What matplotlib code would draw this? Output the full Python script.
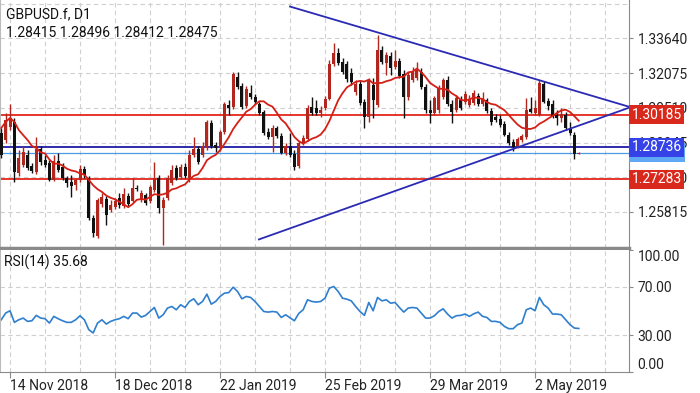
import numpy as np
import pandas as pd
import matplotlib
matplotlib.use('Agg')
import matplotlib.pyplot as plt
import matplotlib.transforms as mtransforms

plt.rcParams['font.family'] = ['Roboto', 'DejaVu Sans']

symbol = 'GBPUSD.f, D1'
last_ohlc = '1.28415 1.28496 1.28412 1.28475'

# daily bars, oldest first
opens = [1.2937, 1.2906, 1.2964, 1.2987, 1.2757, 1.2793, 1.2838, 1.2789, 1.2762, 1.2865,
         1.2816, 1.2802, 1.2726, 1.2811, 1.2784, 1.2735, 1.2717, 1.2703, 1.2726, 1.2775,
         1.2735, 1.2554, 1.2473, 1.2618, 1.2640, 1.2591, 1.2604, 1.2645, 1.2609, 1.2654,
         1.2631, 1.2690, 1.2636, 1.2658, 1.2631, 1.2681, 1.2735, 1.2600, 1.2645, 1.2712,
         1.2780, 1.2739, 1.2784, 1.2735, 1.2838, 1.2865, 1.2838, 1.2870, 1.2982, 1.2883,
         1.2870, 1.2942, 1.3064, 1.3055, 1.3190, 1.3149, 1.3059, 1.3118, 1.3100, 1.3068,
         1.3032, 1.2942, 1.2919, 1.2960, 1.2924, 1.2847, 1.2879, 1.2843, 1.2789, 1.2892,
         1.2910, 1.3055, 1.3050, 1.3028, 1.3050, 1.3091, 1.3248, 1.3298, 1.3257, 1.3248,
         1.3208, 1.3122, 1.3158, 1.3077, 1.3009, 1.3154, 1.3064, 1.3311, 1.3253, 1.3284,
         1.3235, 1.3262, 1.3203, 1.3100, 1.3176, 1.3185, 1.3212, 1.3145, 1.3041, 1.3028,
         1.3041, 1.3100, 1.3176, 1.3068, 1.3041, 1.3086, 1.3077, 1.3064, 1.3073, 1.3104,
         1.3068, 1.3086, 1.3037, 1.3009, 1.3000, 1.2978, 1.2928, 1.2897, 1.2879, 1.2906,
         1.2919, 1.3046, 1.3028, 1.3018, 1.3158, 1.3082, 1.3068, 1.3018, 1.3005, 1.3018,
         1.2960, 1.2928, 1.28415]
highs = [1.2960, 1.3028, 1.3068, 1.3005, 1.2861, 1.2879, 1.2861, 1.2802, 1.2919, 1.2879,
         1.2838, 1.2816, 1.2838, 1.2847, 1.2802, 1.2744, 1.2748, 1.2735, 1.2793, 1.2789,
         1.2744, 1.2568, 1.2645, 1.2667, 1.2654, 1.2636, 1.2645, 1.2667, 1.2690, 1.2667,
         1.2735, 1.2703, 1.2681, 1.2667, 1.2703, 1.2807, 1.2748, 1.2649, 1.2748, 1.2793,
         1.2793, 1.2798, 1.2802, 1.2861, 1.2919, 1.2879, 1.2897, 1.2996, 1.2996, 1.2897,
         1.2951, 1.3077, 1.3086, 1.3212, 1.3212, 1.3163, 1.3149, 1.3154, 1.3113, 1.3077,
         1.3041, 1.2960, 1.2973, 1.2969, 1.2937, 1.2892, 1.2937, 1.2861, 1.2901, 1.2928,
         1.3064, 1.3100, 1.3086, 1.3059, 1.3104, 1.3266, 1.3343, 1.3320, 1.3275, 1.3262,
         1.3230, 1.3176, 1.3172, 1.3091, 1.3185, 1.3185, 1.3379, 1.3329, 1.3302, 1.3302,
         1.3311, 1.3275, 1.3221, 1.3212, 1.3235, 1.3257, 1.3230, 1.3158, 1.3086, 1.3104,
         1.3154, 1.3185, 1.3194, 1.3086, 1.3109, 1.3104, 1.3127, 1.3109, 1.3131, 1.3118,
         1.3122, 1.3095, 1.3050, 1.3023, 1.3018, 1.2991, 1.2942, 1.2910, 1.2919, 1.2933,
         1.3095, 1.3100, 1.3086, 1.3176, 1.3172, 1.3095, 1.3086, 1.3041, 1.3050, 1.3032,
         1.2987, 1.2942, 1.28496]
lows = [1.2825, 1.2892, 1.2951, 1.2717, 1.2744, 1.2784, 1.2771, 1.2757, 1.2753, 1.2793,
        1.2784, 1.2721, 1.2721, 1.2762, 1.2726, 1.2694, 1.2649, 1.2681, 1.2717, 1.2735,
        1.2545, 1.2469, 1.2464, 1.2604, 1.2523, 1.2582, 1.2595, 1.2600, 1.2600, 1.2609,
        1.2627, 1.2676, 1.2627, 1.2613, 1.2622, 1.2672, 1.2577, 1.2433, 1.2636, 1.2703,
        1.2726, 1.2730, 1.2735, 1.2717, 1.2829, 1.2798, 1.2829, 1.2861, 1.2870, 1.2852,
        1.2856, 1.2933, 1.3018, 1.3046, 1.3136, 1.3046, 1.3050, 1.3091, 1.3068, 1.3018,
        1.2928, 1.2910, 1.2852, 1.2915, 1.2843, 1.2838, 1.2829, 1.2771, 1.2780, 1.2883,
        1.2901, 1.3018, 1.3018, 1.3009, 1.3041, 1.3086, 1.3239, 1.3244, 1.3203, 1.3167,
        1.3154, 1.3109, 1.3064, 1.2960, 1.2987, 1.3005, 1.3055, 1.3248, 1.3199, 1.3199,
        1.3226, 1.3185, 1.3005, 1.3086, 1.3167, 1.3176, 1.3136, 1.3028, 1.2982, 1.3018,
        1.3028, 1.3091, 1.3059, 1.2982, 1.3032, 1.3041, 1.3068, 1.3055, 1.3064, 1.3059,
        1.3059, 1.3028, 1.2973, 1.2987, 1.2964, 1.2924, 1.2883, 1.2856, 1.2870, 1.2897,
        1.2910, 1.3028, 1.3018, 1.3014, 1.3073, 1.3041, 1.3005, 1.2973, 1.2987, 1.2951,
        1.2928, 1.2820, 1.28412]
closes = [1.2838, 1.2996, 1.3005, 1.2762, 1.2825, 1.2852, 1.2780, 1.2766, 1.2865, 1.2807,
          1.2793, 1.2726, 1.2811, 1.2771, 1.2735, 1.2712, 1.2699, 1.2726, 1.2775, 1.2748,
          1.2554, 1.2487, 1.2636, 1.2649, 1.2568, 1.2613, 1.2631, 1.2613, 1.2663, 1.2618,
          1.2690, 1.2685, 1.2667, 1.2622, 1.2694, 1.2735, 1.2600, 1.2636, 1.2735, 1.2771,
          1.2735, 1.2784, 1.2744, 1.2838, 1.2865, 1.2807, 1.2879, 1.2987, 1.2879, 1.2870,
          1.2942, 1.3068, 1.3050, 1.3203, 1.3145, 1.3055, 1.3136, 1.3100, 1.3077, 1.3028,
          1.2937, 1.2919, 1.2960, 1.2924, 1.2847, 1.2879, 1.2838, 1.2784, 1.2892, 1.2915,
          1.3050, 1.3028, 1.3028, 1.3041, 1.3091, 1.3248, 1.3298, 1.3253, 1.3212, 1.3181,
          1.3167, 1.3158, 1.3073, 1.3009, 1.3176, 1.3086, 1.3311, 1.3257, 1.3289, 1.3230,
          1.3262, 1.3194, 1.3100, 1.3199, 1.3212, 1.3221, 1.3145, 1.3041, 1.3028, 1.3095,
          1.3140, 1.3176, 1.3068, 1.3032, 1.3095, 1.3050, 1.3113, 1.3091, 1.3118, 1.3068,
          1.3091, 1.3037, 1.2987, 1.2996, 1.2973, 1.2928, 1.2892, 1.2874, 1.2910, 1.2924,
          1.3041, 1.3032, 1.3050, 1.3163, 1.3077, 1.3059, 1.3014, 1.3005, 1.3023, 1.2960,
          1.2937, 1.2842, 1.28475]

# MA(10) values before ten closes are on screen
ma_head = [1.2960, 1.2987, 1.3005, 1.2987, 1.2951, 1.2928, 1.2906, 1.2879, 1.2870]

rsi = [42.8, 48.3, 50.2, 40.7, 42.8, 44.2, 41.5, 42.0, 46.4, 44.2,
       43.7, 40.1, 45.6, 43.7, 42.0, 40.7, 40.7, 42.8, 46.1, 42.8,
       34.7, 32.0, 40.1, 42.8, 39.3, 41.5, 42.8, 43.7, 45.6, 43.7,
       48.3, 48.3, 45.0, 46.4, 49.6, 52.9, 44.2, 46.9, 52.4, 53.7,
       51.0, 55.1, 52.9, 57.8, 60.0, 55.1, 57.8, 63.8, 55.6, 57.8,
       61.9, 64.6, 65.1, 69.5, 66.0, 60.0, 61.9, 61.1, 57.8, 53.7,
       49.6, 49.1, 49.6, 49.1, 44.7, 46.9, 44.5, 42.0, 48.0, 51.0,
       59.2, 57.8, 57.3, 57.8, 60.5, 68.7, 70.1, 66.0, 60.5, 59.7,
       58.3, 53.7, 49.6, 46.4, 57.0, 50.2, 61.1, 58.3, 59.2, 56.4,
       57.0, 52.9, 49.1, 52.4, 52.9, 52.4, 48.3, 44.2, 44.2, 46.1,
       49.6, 51.8, 47.5, 44.2, 46.1, 46.4, 47.5, 45.6, 47.7, 49.1,
       45.6, 44.7, 41.5, 41.5, 40.7, 37.4, 35.5, 35.5, 38.8, 40.1,
       51.0, 52.4, 50.2, 61.1, 55.1, 52.4, 47.5, 47.5, 46.9, 42.8,
       38.8, 36.0, 35.68]

date_labels = ['14 Nov 2018', '18 Dec 2018', '22 Jan 2019', '25 Feb 2019', '29 Mar 2019', '2 May 2019']
date_bars = [2, 26, 50, 74, 98, 122]

price_ticks = [1.25815, 1.27380, 1.28945, 1.30510, 1.32075, 1.33640]

# horizontal levels: (price, line colour, box colour)
levels = [(1.30185, '#e3261b', '#d9291c'),
          (1.27283, '#e3261b', '#d9291c'),
          (1.28475, '#4d9be6', '#5ea8f5'),
          (1.28736, '#1c1ca6', '#3442e8')]

# trendlines as (bar, price) end points
upper_trend = ([66.0, 143.6], [1.3507, 1.3055])
lower_trend = ([58.9, 143.6], [1.2458, 1.3052])

n = len(closes)
idx = np.arange(n)
o = np.array(opens)
h = np.array(highs)
l = np.array(lows)
c = np.array(closes)

ma = pd.Series(c).rolling(10).mean().to_numpy()
ma[:9] = ma_head

up_col = '#b3261e'
dn_col = '#111111'
grid_col = '#cfcfcf'
axis_col = '#8a8a8a'

fig = plt.figure(figsize=(7, 3.93), dpi=100)
ax = fig.add_axes([0, 1 - 248 / 393, 629.3 / 700, 248 / 393])
ax2 = fig.add_axes([0, 1 - 372 / 393, 629.3 / 700, 122 / 393])

xlim = (-0.29, 143.55)
for a in (ax, ax2):
    a.set_xlim(*xlim)
    for k in range(2, 144, 8):
        a.axvline(k, color=grid_col, lw=0.8, ls=(0, (4, 3)), zorder=0)
    a.spines['top'].set_visible(False)
    a.spines['left'].set_color('#bbbbbb')
    a.spines['right'].set_color(axis_col)
    a.yaxis.tick_right()
    a.tick_params(axis='y', length=3, color=axis_col, labelsize=10, pad=3, labelcolor='#222222')

# price panel
ax.set_ylim(1.24193, 1.35365)
for p in price_ticks + [1.35205]:
    ax.axhline(p, color=grid_col, lw=0.8, ls=(0, (4, 3)), zorder=0)
ax.set_yticks(price_ticks)
ax.set_yticklabels(['%.5f' % p for p in price_ticks])
ax.set_xticks([])
ax.spines['bottom'].set_color(axis_col)
ax.spines['bottom'].set_linewidth(2.5)

up = c >= o
colors = np.where(up, up_col, dn_col)
ax.vlines(idx, l, h, colors=colors, lw=1, zorder=3)
ax.bar(idx, np.abs(c - o) + 0.00004, bottom=np.minimum(o, c), width=0.68,
       color=colors, zorder=4)
ax.plot(idx, ma, color='#d41f16', lw=1.3, zorder=5)

for price, lc, bc in levels:
    lw = 0.9 if price == 1.28475 else 1.3
    ax.axhline(price, color=lc, lw=lw, zorder=2)

ax.plot(upper_trend[0], upper_trend[1], color='#2a2ab4', lw=1.3, zorder=6)
ax.plot(lower_trend[0], lower_trend[1], color='#2a2ab4', lw=1.3, zorder=6)

trans = mtransforms.blended_transform_factory(ax.transAxes, ax.transData)
for price, lc, bc in levels:
    ax.text(1.004, price, '%.5f' % price, transform=trans, color='white', fontsize=10,
            ha='left', va='center', clip_on=False, zorder=10,
            bbox=dict(boxstyle='square,pad=0.18', fc=bc, ec='none'))

fig.text(6 / 700, 1 - 14 / 393, symbol, fontsize=10, va='center', color='#111111')
fig.text(6 / 700, 1 - 33 / 393, last_ohlc, fontsize=10, va='center', color='#111111')

# RSI panel
ax2.set_ylim(0, 100)
for v in (30, 70):
    ax2.axhline(v, color=grid_col, lw=0.8, ls=(0, (4, 3)), zorder=0)
ax2.plot(idx, rsi, color='#2f7fcf', lw=1.2)
ax2.set_yticks([0, 30, 70, 100])
ax2.set_yticklabels(['0.00', '30.00', '70.00', '100.00'])
ylabels = ax2.get_yticklabels()
ylabels[0].set_va('bottom')
ylabels[-1].set_va('top')
ax2.spines['bottom'].set_color(axis_col)
ax2.set_xticks(date_bars)
ax2.set_xticklabels(date_labels, ha='left')
ax2.tick_params(axis='x', length=4, color=axis_col, labelsize=10, pad=1, labelcolor='#222222')
fig.text(4 / 700, 1 - 262 / 393, 'RSI(14) %.2f' % rsi[-1], fontsize=10, va='center', color='#111111')

fig.savefig('out.png', dpi=100, facecolor='white')
